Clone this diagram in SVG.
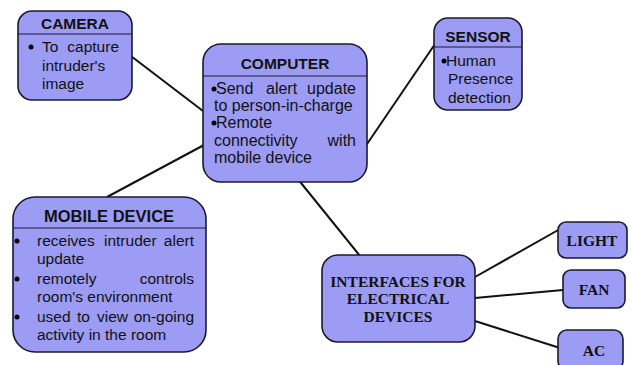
<svg xmlns="http://www.w3.org/2000/svg" width="633" height="365" viewBox="0 0 633 365">
  <style>
    .box { fill: #9c9cf5; stroke: #1a1a2e; stroke-width: 1.6; }
    .rule { stroke: #1a1a2e; stroke-width: 1.2; }
    .head { font-family: "Liberation Sans", Arial, sans-serif; font-weight: bold; font-size: 15.5px; fill: #111; text-anchor: middle; }
    .body { font-family: "Liberation Sans", Arial, sans-serif; font-size: 15.5px; fill: #111; }
    .dev { font-family: "Liberation Serif", "Times New Roman", serif; font-weight: bold; font-size: 15.5px; fill: #111; text-anchor: middle; }
    .end { text-anchor: end; }
    .dot { fill: #000; }
    .link { stroke: #111; stroke-width: 2; fill: none; }
  </style>

  <!-- connectors -->
  <g id="connectors">
    <line class="link" x1="127" y1="53" x2="203" y2="111"/>
    <line class="link" x1="107" y1="197" x2="204" y2="145"/>
    <line class="link" x1="365" y1="147" x2="435" y2="44"/>
    <line class="link" x1="297" y1="178" x2="360" y2="256"/>
    <line class="link" x1="475" y1="277" x2="560" y2="229"/>
    <line class="link" x1="475" y1="298" x2="563" y2="290"/>
    <line class="link" x1="475" y1="321" x2="560" y2="348"/>
  </g>

  <!-- camera -->
  <g id="camera">
    <rect class="box" x="18" y="11" width="114" height="89" rx="14"/>
    <line class="rule" x1="18" y1="34" x2="132" y2="34"/>
    <text class="head" x="75" y="29">CAMERA</text>
    <circle class="dot" cx="31" cy="47" r="2.5"/>
    <text class="body" x="42" y="52">To</text>
    <text class="body end" x="119" y="52">capture</text>
    <text class="body" x="42" y="71">intruder's</text>
    <text class="body" x="42" y="89">image</text>
  </g>

  <!-- computer -->
  <g id="computer">
    <rect class="box" x="203" y="44" width="164" height="138" rx="18"/>
    <line class="rule" x1="203" y1="76" x2="367" y2="76"/>
    <text class="head" x="285" y="69">COMPUTER</text>
    <circle class="dot" cx="214" cy="89" r="2.5"/>
    <text class="body" x="216" y="94" style="font-size:16px">Send</text>
    <text class="body" x="266" y="94" style="font-size:16px">alert</text>
    <text class="body end" x="356" y="94" style="font-size:16px">update</text>
    <text class="body" x="214" y="111" style="font-size:16px">to person-in-charge</text>
    <circle class="dot" cx="214" cy="123" r="2.5"/>
    <text class="body" x="216" y="128" style="font-size:16px">Remote</text>
    <text class="body" x="214" y="146" style="font-size:16px">connectivity</text>
    <text class="body end" x="356" y="146" style="font-size:16px">with</text>
    <text class="body" x="214" y="163" style="font-size:16px">mobile device</text>
  </g>

  <!-- sensor -->
  <g id="sensor">
    <rect class="box" x="434" y="18" width="88" height="92" rx="14"/>
    <line class="rule" x1="434" y1="47" x2="522" y2="47"/>
    <text class="head" x="478" y="42">SENSOR</text>
    <circle class="dot" cx="444" cy="61" r="2.5"/>
    <text class="body" x="446" y="66">Human</text>
    <text class="body" x="448" y="84">Presence</text>
    <text class="body" x="448" y="103">detection</text>
  </g>

  <!-- mobile device -->
  <g id="mobile-device">
    <rect class="box" x="13" y="197" width="193" height="155" rx="22"/>
    <line class="rule" x1="13" y1="228" x2="206" y2="228"/>
    <text class="head" x="109" y="222" style="font-size:16.5px">MOBILE DEVICE</text>
    <circle class="dot" cx="17" cy="241" r="2.5"/>
    <text class="body" x="37" y="246">receives</text>
    <text class="body" x="104" y="246">intruder</text>
    <text class="body end" x="194" y="246">alert</text>
    <text class="body" x="37" y="264">update</text>
    <circle class="dot" cx="17" cy="279" r="2.5"/>
    <text class="body" x="37" y="284">remotely</text>
    <text class="body end" x="194" y="284">controls</text>
    <text class="body" x="37" y="302">room's environment</text>
    <circle class="dot" cx="17" cy="317" r="2.5"/>
    <text class="body" x="37" y="322">used</text>
    <text class="body" x="77" y="322">to</text>
    <text class="body" x="97" y="322">view</text>
    <text class="body end" x="194" y="322">on-going</text>
    <text class="body" x="37" y="340">activity in the room</text>
  </g>

  <!-- interfaces -->
  <g id="interfaces">
    <rect class="box" x="322" y="255" width="153" height="87" rx="16"/>
    <text class="dev" x="398" y="287">INTERFACES FOR</text>
    <text class="dev" x="398" y="304">ELECTRICAL</text>
    <text class="dev" x="398" y="322">DEVICES</text>
  </g>

  <!-- light -->
  <g id="light">
    <rect class="box" x="558" y="222" width="69" height="36" rx="8"/>
    <text class="dev" x="592" y="246">LIGHT</text>
  </g>

  <!-- fan -->
  <g id="fan">
    <rect class="box" x="563" y="270" width="62" height="38" rx="8"/>
    <text class="dev" x="594" y="295">FAN</text>
  </g>

  <!-- ac -->
  <g id="ac">
    <rect class="box" x="558" y="330" width="65" height="40" rx="9"/>
    <text class="dev" x="594" y="356">AC</text>
  </g>
</svg>
